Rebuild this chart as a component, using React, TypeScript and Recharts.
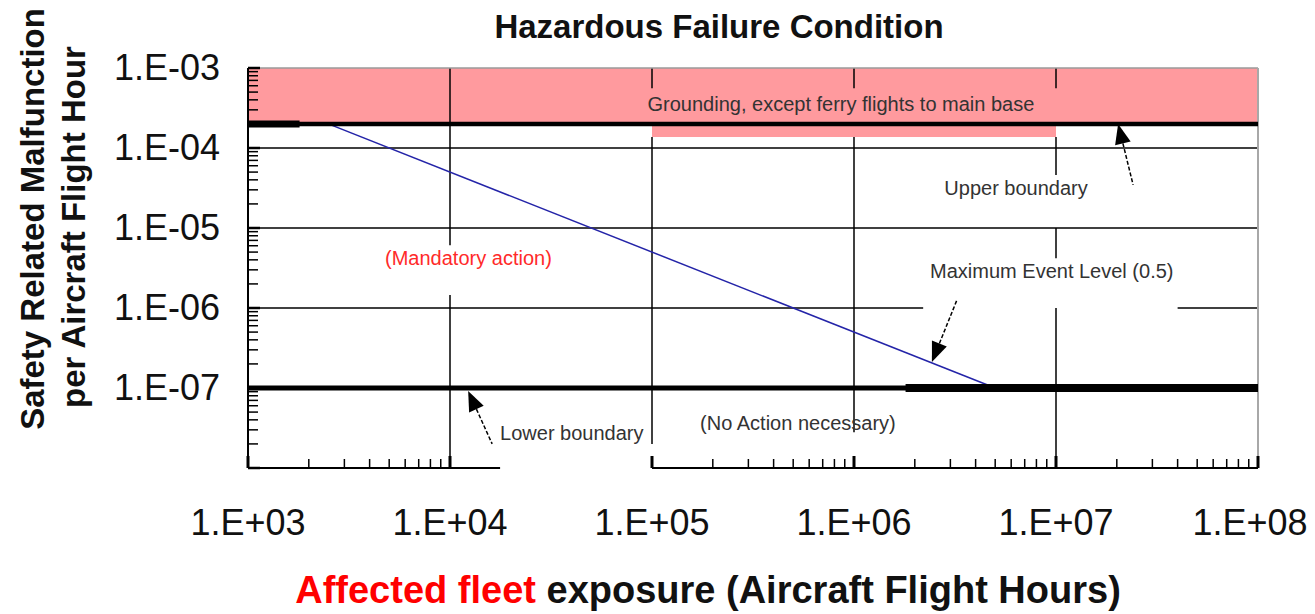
import React from "react";
import {
  LineChart,
  Line,
  XAxis,
  YAxis,
  ReferenceArea,
  ReferenceLine,
  ReferenceDot,
} from "recharts";

// Maximum Event Level (0.5 events) line: rate = 0.5 / exposure
const exposureHours = [2500, 5e6];
const maxEventRate = [2e-4, 1e-7];

const upperBoundary = 2e-4;
const lowerBoundary = 1e-7;

const xDecades = [1e3, 1e4, 1e5, 1e6, 1e7, 1e8];
const xTickLabels = ["1.E+03", "1.E+04", "1.E+05", "1.E+06", "1.E+07", "1.E+08"];
const yDecades = [1e-8, 1e-7, 1e-6, 1e-5, 1e-4, 1e-3];
const yTickLabels = ["", "1.E-07", "1.E-06", "1.E-05", "1.E-04", "1.E-03"];
const minorSteps = [2, 3, 4, 5, 6, 7, 8, 9];

const FONT = "'Liberation Sans', Arial, sans-serif";

const xTicks = xDecades.flatMap((d, i) =>
  i < xDecades.length - 1 ? [d, ...minorSteps.map((m) => m * d)] : [d]
);
const yTicks = yDecades.flatMap((d, i) =>
  i < yDecades.length - 1 ? [d, ...minorSteps.map((m) => m * d)] : [d]
);

const data = exposureHours.map((x, i) => ({ x, rate: maxEventRate[i] }));

function XTick(props: any) {
  const { x, y, payload } = props;
  const v = payload.value;
  const i = xDecades.indexOf(v);
  const major = i >= 0;
  // minor ticks of the 1e4 decade are hidden under the "Lower boundary" box
  if (!major && v > 1.5e4 && v < 1e5) return <g />;
  return (
    <g>
      <line
        x1={x}
        x2={x}
        y1={y}
        y2={y - (major ? 12 : 9)}
        stroke="#000"
        strokeWidth={major ? 3 : 1.5}
      />
      {major && (
        <text
          x={x + (v === 1e8 ? -8 : 0)}
          y={y + 67}
          textAnchor="middle"
          fontSize={36}
          fontFamily={FONT}
          fill="#111"
        >
          {xTickLabels[i]}
        </text>
      )}
    </g>
  );
}

function YTick(props: any) {
  const { x, y, payload } = props;
  const v = payload.value;
  const i = yDecades.findIndex((d) => Math.abs(d - v) / d < 1e-6);
  const major = i >= 0;
  return (
    <g>
      <line
        x1={x}
        x2={x + (major ? 12 : 10)}
        y1={y}
        y2={y}
        stroke="#000"
        strokeWidth={major ? 2.5 : 1.5}
      />
      {major && yTickLabels[i] && (
        <text
          x={x - 28}
          y={y + 12}
          textAnchor="end"
          fontSize={36}
          fontFamily={FONT}
          fill="#111"
        >
          {yTickLabels[i]}
        </text>
      )}
    </g>
  );
}

const note =
  (text: string, color = "#333") =>
  (p: any) =>
    (
      <text x={p.cx} y={p.cy} fill={color} fontSize={20} fontFamily={FONT}>
        {text}
      </text>
    );

const arrow = (dx: number, dy: number) => (p: any) => {
  const { cx, cy } = p;
  const len = Math.hypot(dx, dy);
  const ux = dx / len;
  const uy = dy / len;
  const bx = cx + ux * 20;
  const by = cy + uy * 20;
  const px = -uy * 8;
  const py = ux * 8;
  return (
    <g>
      <line
        x1={bx}
        y1={by}
        x2={cx + dx}
        y2={cy + dy}
        stroke="#000"
        strokeWidth={1.5}
        strokeDasharray="4 2"
      />
      <polygon
        points={`${cx},${cy} ${bx + px},${by + py} ${bx - px},${by - py}`}
        fill="#000"
      />
    </g>
  );
};

const grid = (segs: [number, number][][]) =>
  segs.map((s, k) => (
    <ReferenceLine
      key={k}
      segment={[
        { x: s[0][0], y: s[0][1] },
        { x: s[1][0], y: s[1][1] },
      ]}
      stroke="#000"
      strokeWidth={1.5}
    />
  ));

export default function App() {
  return (
    <div style={{ position: "relative", width: 1307, height: 606 }}>
      <LineChart
        width={1307}
        height={606}
        data={data}
        margin={{ top: 60, right: 57, bottom: 0, left: 0 }}
      >
        <ReferenceArea
          x1={1e3}
          x2={1e8}
          y1={upperBoundary}
          y2={1e-3}
          fill="#ff9a9e"
          fillOpacity={1}
          stroke="none"
        />
        <ReferenceArea
          x1={1e5}
          x2={1e7}
          y1={1.37e-4}
          y2={upperBoundary}
          fill="#ff9a9e"
          fillOpacity={1}
          stroke="none"
        />
        {grid([
          // vertical grid
          [[1e4, 1e-3], [1e4, 6.1e-6]],
          [[1e4, 1.45e-6], [1e4, 1e-8]],
          [[1e5, 1e-3], [1e5, 5.6e-4]],
          [[1e5, 1.37e-4], [1e5, 2e-8]],
          [[1e6, 1e-3], [1e6, 5.6e-4]],
          [[1e6, 1.37e-4], [1e6, 2.8e-8]],
          [[1e7, 1e-3], [1e7, 5.6e-4]],
          [[1e7, 1.37e-4], [1e7, 4.6e-5]],
          [[1e7, 1e-5], [1e7, 4.2e-6]],
          [[1e7, 1e-6], [1e7, 1e-8]],
          // horizontal grid
          [[1e3, 1e-4], [1e8, 1e-4]],
          [[1e3, 1e-5], [1e8, 1e-5]],
          [[1e3, 1e-6], [2.2e6, 1e-6]],
          [[4e7, 1e-6], [1e8, 1e-6]],
        ])}
        {/* bottom axis line, broken by the label box */}
        <ReferenceLine
          segment={[{ x: 1e3, y: 1e-8 }, { x: 1.77e4, y: 1e-8 }]}
          stroke="#000"
          strokeWidth={2}
        />
        <ReferenceLine
          segment={[{ x: 1e5, y: 1e-8 }, { x: 1e8, y: 1e-8 }]}
          stroke="#000"
          strokeWidth={2}
        />
        <ReferenceLine y={1e-3} stroke="#9a9a9a" strokeWidth={1.5} />
        <ReferenceLine x={1e8} stroke="#a8a8a8" strokeWidth={2} />

        <Line
          dataKey="rate"
          type="linear"
          stroke="#2424a8"
          strokeWidth={1.5}
          dot={false}
          isAnimationActive={false}
        />

        <ReferenceLine y={upperBoundary} stroke="#000" strokeWidth={4.5} />
        <ReferenceLine
          segment={[{ x: 1e3, y: upperBoundary }, { x: 1.8e3, y: upperBoundary }]}
          stroke="#000"
          strokeWidth={7}
        />
        <ReferenceLine y={lowerBoundary} stroke="#000" strokeWidth={5} />
        <ReferenceLine
          segment={[{ x: 1.8e6, y: lowerBoundary }, { x: 1e8, y: lowerBoundary }]}
          stroke="#000"
          strokeWidth={8}
        />

        <ReferenceDot x={9.5e4} y={2.9e-4} r={1} shape={note("Grounding, except ferry flights to main base")} />
        <ReferenceDot x={2.8e6} y={2.59e-5} r={1} shape={note("Upper boundary")} />
        <ReferenceDot x={4.77e3} y={3.45e-6} r={1} shape={note("(Mandatory action)", "#ff2a2a")} />
        <ReferenceDot x={2.38e6} y={2.37e-6} r={1} shape={note("Maximum Event Level (0.5)")} />
        <ReferenceDot x={1.73e5} y={2.99e-8} r={1} shape={note("(No Action necessary)")} />
        <ReferenceDot x={1.77e4} y={2.24e-8} r={1} shape={note("Lower boundary")} />

        <ReferenceDot x={2.03e7} y={2e-4} r={1} shape={arrow(15, 61)} />
        <ReferenceDot x={2.43e6} y={2.11e-7} r={1} shape={arrow(25, -62)} />
        <ReferenceDot x={1.23e4} y={9.2e-8} r={1} shape={arrow(24, 53)} />

        <XAxis
          dataKey="x"
          type="number"
          scale="log"
          domain={[1e3, 1e8]}
          ticks={xTicks}
          interval={0}
          allowDataOverflow
          axisLine={false}
          tickLine={false}
          tickSize={0}
          tickMargin={0}
          height={146}
          tick={<XTick />}
        />
        <YAxis
          type="number"
          scale="log"
          domain={[1e-8, 1e-3]}
          ticks={yTicks}
          interval={0}
          allowDataOverflow
          axisLine={{ stroke: "#000", strokeWidth: 2 }}
          tickLine={false}
          tickSize={0}
          tickMargin={0}
          width={240}
          tick={<YTick />}
        />
      </LineChart>
      <svg
        width={1307}
        height={606}
        style={{ position: "absolute", left: 0, top: 0, pointerEvents: "none" }}
      >
        <text
          x={711}
          y={30}
          textAnchor="middle"
          fontSize={33}
          fontWeight="bold"
          fontFamily={FONT}
          fill="#111"
        >
          Hazardous Failure Condition
        </text>
        <text
          x={36}
          y={211}
          transform="rotate(-90 36 211)"
          textAnchor="middle"
          fontSize={33}
          fontWeight="bold"
          fontFamily={FONT}
          fill="#111"
        >
          Safety Related Malfunction
        </text>
        <text
          x={77}
          y={219}
          transform="rotate(-90 77 219)"
          textAnchor="middle"
          fontSize={33}
          fontWeight="bold"
          fontFamily={FONT}
          fill="#111"
        >
          per Aircraft Flight Hour
        </text>
        <text
          x={700}
          y={595}
          textAnchor="middle"
          fontSize={38}
          fontWeight="bold"
          fontFamily={FONT}
          fill="#111"
        >
          <tspan fill="#ff0000">Affected fleet</tspan> exposure (Aircraft Flight Hours)
        </text>
      </svg>
    </div>
  );
}
